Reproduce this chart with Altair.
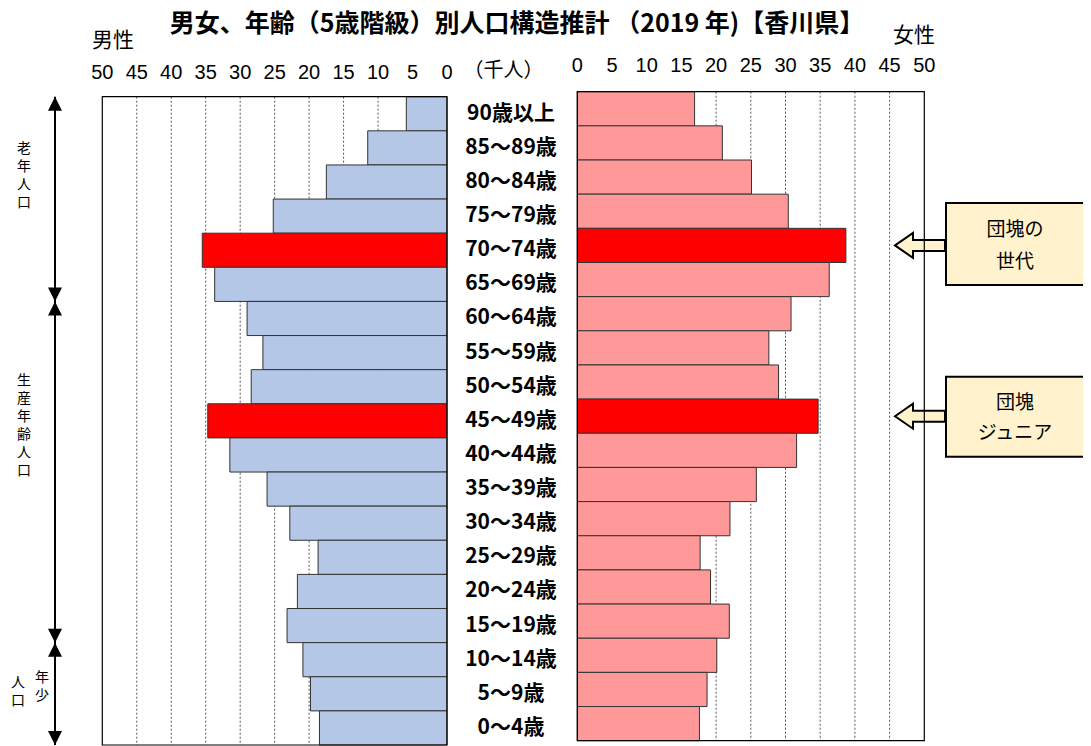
import altair as alt
import pandas as pd

# ---------------- data ----------------
ages = ["90歳以上", "85～89歳", "80～84歳", "75～79歳", "70～74歳", "65～69歳",
        "60～64歳", "55～59歳", "50～54歳", "45～49歳", "40～44歳", "35～39歳",
        "30～34歳", "25～29歳", "20～24歳", "15～19歳", "10～14歳", "5～9歳", "0～4歳"]
male = [5.9, 11.5, 17.5, 25.2, 35.5, 33.7, 29.0, 26.7, 28.4, 34.7,
        31.5, 26.1, 22.8, 18.7, 21.7, 23.2, 20.9, 19.8, 18.5]
female = [16.9, 20.9, 25.1, 30.4, 38.7, 36.3, 30.8, 27.6, 29.0, 34.7,
          31.6, 25.8, 22.0, 17.7, 19.2, 21.9, 20.1, 18.7, 17.6]
dankai = ["70～74歳", "45～49歳"]
callout_texts = ["団塊の\n世代", "団塊\nジュニア"]
axis_ticks = [0, 5, 10, 15, 20, 25, 30, 35, 40, 45, 50]
grid_ticks = [5, 10, 15, 20, 25, 30, 35, 40, 45]
groups = ["老年人口", "生産年齢人口", "年少人口"]
group_first = ["90歳以上", "60～64歳", "10～14歳"]
group_last = ["65～69歳", "15～19歳", "0～4歳"]
title_text = "男女、年齢（5歳階級）別人口構造推計 （2019 年)【香川県】"
male_label = "男性"
female_label = "女性"
unit_label = "（千人）"

n = len(ages)
XMAX = 50

df = pd.DataFrame({"age": ages, "male": male, "female": female})
df["i"] = range(n)
df["i1"] = df["i"] + 1
df["mid"] = df["i"] + 0.5
df["zero"] = 0
df["hl"] = df["age"].isin(dankai)

seg = pd.DataFrame({
    "g": groups,
    "s": [ages.index(a) for a in group_first],
    "e": [ages.index(a) + 1 for a in group_last],
})
ticks = pd.DataFrame({"t": axis_ticks})
grid = pd.DataFrame({"v": grid_ticks})
grid["y0"] = 0
grid["y1"] = n
frame = pd.DataFrame({"x0": [0], "x1": [XMAX], "y0": [0], "y1": [n]})
one = pd.DataFrame({"k": [0]})
call = pd.DataFrame({"age": dankai, "mid": [ages.index(a) + 0.5 for a in dankai]})

FONT = "Noto Sans CJK JP"
XM = alt.Scale(domain=[0, XMAX], range=[439.0, 94.3], nice=False, zero=False)
XF = alt.Scale(domain=[0, XMAX], range=[569.3, 916.3], nice=False, zero=False)
YM = alt.Scale(domain=[0, n], range=[88.7, 737.0], nice=False, zero=False)
YF = alt.Scale(domain=[0, n], range=[83.7, 732.7], nice=False, zero=False)

layers = []

# grid lines
for xs, ys in [(XM, YM), (XF, YF)]:
    layers.append(
        alt.Chart(grid).mark_rule(color="#555555", strokeDash=[2, 2], strokeWidth=1).encode(
            x=alt.X("v:Q", scale=xs, axis=None),
            y=alt.Y("y0:Q", scale=ys, axis=None), y2="y1:Q")
    )

# bars
layers.append(
    alt.Chart(df).mark_rect(stroke="#333333", strokeWidth=1).encode(
        x=alt.X("male:Q", scale=XM, axis=None), x2="zero:Q",
        y=alt.Y("i:Q", scale=YM, axis=None), y2="i1:Q",
        fill=alt.when(alt.datum.hl).then(alt.value("#FF0000")).otherwise(alt.value("#B4C7E7")),
    )
)
layers.append(
    alt.Chart(df).mark_rect(stroke="#333333", strokeWidth=1).encode(
        x=alt.X("zero:Q", scale=XF, axis=None), x2="female:Q",
        y=alt.Y("i:Q", scale=YF, axis=None), y2="i1:Q",
        fill=alt.when(alt.datum.hl).then(alt.value("#FF0000")).otherwise(alt.value("#FF9999")),
    )
)

# callout arrows (under the frame)
ARROW = "M-1,0L-0.28,-0.5L-0.28,-0.22L1,-0.22L1,0.22L-0.28,0.22L-0.28,0.5Z"
layers.append(
    alt.Chart(call).mark_point(shape=ARROW, size=2500, filled=True, fill="#FFF2CC",
                               stroke="black", strokeWidth=2, opacity=1).encode(
        x=alt.value(912), y=alt.Y("mid:Q", scale=YF, axis=None))
)

# frames
for xs, ys in [(XM, YM), (XF, YF)]:
    layers.append(
        alt.Chart(frame).mark_rect(fill="transparent", stroke="black", strokeWidth=1.2).encode(
            x=alt.X("x0:Q", scale=xs, axis=None), x2="x1:Q",
            y=alt.Y("y0:Q", scale=ys, axis=None), y2="y1:Q")
    )

# tick labels
layers.append(
    alt.Chart(ticks).mark_text(font="Liberation Sans", fontSize=20, baseline="alphabetic").encode(
        x=alt.X("t:Q", scale=XM, axis=None), y=alt.value(71), text="t:Q")
)
layers.append(
    alt.Chart(ticks).mark_text(font="Liberation Sans", fontSize=20, baseline="alphabetic").encode(
        x=alt.X("t:Q", scale=XF, axis=None), y=alt.value(64), text="t:Q")
)

# age labels in the middle
layers.append(
    alt.Chart(df).mark_text(font=FONT, fontSize=21, fontWeight="bold").encode(
        x=alt.value(503), y=alt.Y("mid:Q", scale=YM, axis=None), text="age:N")
)

# left annotation: double arrows
layers.append(
    alt.Chart(frame).mark_rule(color="black", strokeWidth=2).encode(
        x=alt.value(47), y=alt.Y("y0:Q", scale=YM, axis=None), y2="y1:Q")
)
UP = "M0,0L0.5,1L-0.5,1Z"
DOWN = "M0,0L0.5,-1L-0.5,-1Z"
layers.append(
    alt.Chart(seg).mark_point(shape=UP, size=784, filled=True, color="black", opacity=1).encode(
        x=alt.value(47), y=alt.Y("s:Q", scale=YM, axis=None))
)
layers.append(
    alt.Chart(seg).mark_point(shape=DOWN, size=784, filled=True, color="black", opacity=1).encode(
        x=alt.value(47), y=alt.Y("e:Q", scale=YM, axis=None))
)


def vtext(s, x, yc, size=14, lh=18):
    chars = list(s)
    y_first = yc - (len(chars) - 1) * lh / 2
    return alt.Chart(one).mark_text(
        text="\n".join(chars), lineBreak="\n", font=FONT, fontSize=size, lineHeight=lh,
        baseline="middle", align="center").encode(x=alt.value(x), y=alt.value(y_first))


layers.append(vtext(groups[0], 16, 168))
layers.append(vtext(groups[1], 16, 418))
layers.append(vtext(groups[2][:2], 34, 679))
layers.append(vtext(groups[2][2:], 10, 684))

# callout boxes
boxes = [(195, 277, 222, 32), (368.7, 448.7, 395, 30)]
for (y0, y1, yt, lh), txt in zip(boxes, callout_texts):
    layers.append(
        alt.Chart(one).mark_rect(fill="#FFF2CC", stroke="black", strokeWidth=2).encode(
            x=alt.value(938), x2=alt.value(1076), y=alt.value(y0), y2=alt.value(y1))
    )
    layers.append(
        alt.Chart(one).mark_text(text=txt, lineBreak="\n", font=FONT, fontSize=19, lineHeight=lh,
                                 baseline="middle", align="center").encode(
            x=alt.value(1007), y=alt.value(yt))
    )

# titles
layers.append(
    alt.Chart(one).mark_text(text=title_text, font=FONT, fontSize=25, fontWeight="bold",
                             baseline="middle", align="center").encode(
        x=alt.value(509), y=alt.value(16))
)
layers.append(
    alt.Chart(one).mark_text(text=male_label, font=FONT, fontSize=21,
                             baseline="middle", align="center").encode(
        x=alt.value(105), y=alt.value(33))
)
layers.append(
    alt.Chart(one).mark_text(text=female_label, font=FONT, fontSize=21,
                             baseline="middle", align="center").encode(
        x=alt.value(906), y=alt.value(28))
)
layers.append(
    alt.Chart(one).mark_text(text=unit_label, font=FONT, fontSize=20,
                             baseline="middle", align="center").encode(
        x=alt.value(495.5), y=alt.value(63))
)

chart = alt.layer(*layers).resolve_scale(x="independent", y="independent").properties(
    width=1075, height=738, autosize=alt.AutoSizeParams(type="none"), padding=0,
    background="white",
).configure_view(stroke=None)

chart.save("out.html", embed_options={"renderer": "svg", "actions": False})
